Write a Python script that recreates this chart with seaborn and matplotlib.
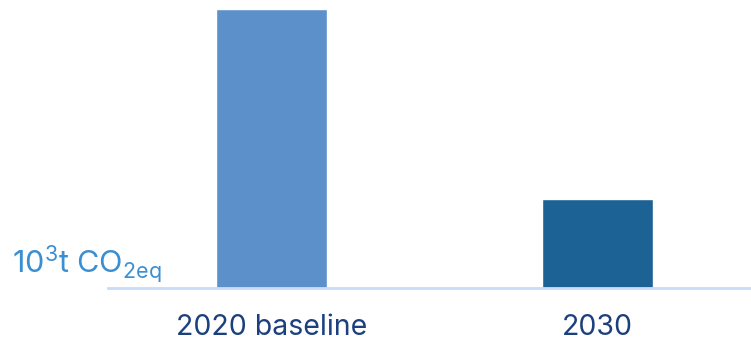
import matplotlib
matplotlib.use("Agg")
import matplotlib.pyplot as plt
import seaborn as sns
import pandas as pd

categories = ["2020 baseline", "2030"]
values = [279, 89]
bar_colors = ["#5b90ca", "#1d6295"]

sns.set_style("white")
plt.rcParams['font.family'] = ['Inter', 'DejaVu Sans']
plt.rcParams['mathtext.default'] = 'regular'

df = pd.DataFrame({"cat": categories, "val": values})

fig = plt.figure(figsize=(7.51, 3.40), dpi=100)
ax = fig.add_axes([108/751, 52/340, 1 - 108/751, 279/340])
sns.barplot(data=df, x="cat", y="val", hue="cat", palette=bar_colors,
            width=0.34, ax=ax, legend=False, saturation=1)
ax.set_xlim(-0.5, 1.47)
ax.set_ylim(0, values[0])
for s in ["top", "right", "left"]:
    ax.spines[s].set_visible(False)
ax.spines["bottom"].set_color("#c8dcf6")
ax.spines["bottom"].set_linewidth(2)
ax.set_yticks([])
ax.set_xlabel("")
ax.set_ylabel("")
ax.tick_params(axis="x", length=0, pad=19, labelsize=20.5, labelcolor="#1c3f7e")
fig.text(12/751, (340-273)/340, "10$^3$t CO$_{2eq}$", fontsize=22, color="#3a8ed2",
         ha="left", va="baseline")
fig.savefig("out.png", dpi=100)
